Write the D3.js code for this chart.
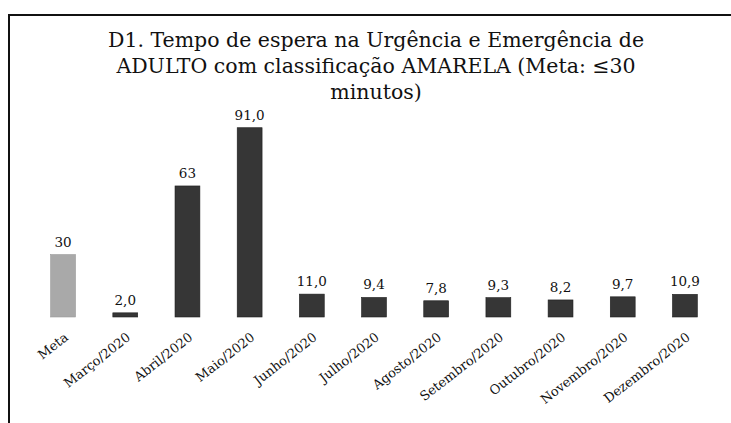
<!DOCTYPE html>
<html>
<head>
<meta charset="utf-8">
<script src="https://cdn.jsdelivr.net/npm/d3@7"></script>
<style>
  body { margin: 0; background: #fff; }
  svg { display: block; }
  text { font-family: "DejaVu Serif", "Liberation Serif", serif; fill: #111; }
</style>
</head>
<body>
<svg id="chart" width="731" height="423"></svg>
<script>
// data
var categories = ["Meta", "Março/2020", "Abril/2020", "Maio/2020", "Junho/2020", "Julho/2020",
    "Agosto/2020", "Setembro/2020", "Outubro/2020", "Novembro/2020", "Dezembro/2020"];
var values = [30, 2.0, 63, 91.0, 11.0, 9.4, 7.8, 9.3, 8.2, 9.7, 10.9];
var valueLabels = ["30", "2,0", "63", "91,0", "11,0", "9,4", "7,8", "9,3", "8,2", "9,7", "10,9"];
var titleLines = ["D1. Tempo de espera na Urgência e Emergência de",
    "ADULTO com classificação AMARELA (Meta: ≤30",
    "minutos)"];

var svg = d3.select("#chart");

// frame (top and left edge of the scanned box)
svg.append("line").attr("x1", 8).attr("y1", 15).attr("x2", 731).attr("y2", 15)
    .attr("stroke", "#111").attr("stroke-width", 2);
svg.append("line").attr("x1", 9).attr("y1", 14).attr("x2", 9).attr("y2", 423)
    .attr("stroke", "#111").attr("stroke-width", 2);

// title
svg.append("g").selectAll("text")
    .data(titleLines)
    .enter()
    .append("text")
    .attr("x", 376)
    .attr("y", function (d, i) { return 47 + i * 26; })
    .attr("text-anchor", "middle")
    .attr("font-size", 20.5)
    .text(function (d) { return d; });

var x = d3.scaleBand()
    .domain(categories)
    .range([32, 716])
    .paddingInner(0.6)
    .paddingOuter(0.3);

var y = d3.scaleLinear()
    .domain([0, 100])
    .range([317, 109]);

var data = categories.map(function (c, i) {
    return { cat: c, value: values[i], label: valueLabels[i] };
});

svg.append("g").selectAll("rect")
    .data(data)
    .enter()
    .append("rect")
    .attr("x", function (d) { return x(d.cat); })
    .attr("y", function (d) { return y(d.value); })
    .attr("width", x.bandwidth())
    .attr("height", function (d) { return y(0) - y(d.value); })
    .attr("fill", function (d, i) { return i === 0 ? "#a9a9a9" : "#363636"; })
    .attr("stroke", function (d, i) { return i === 0 ? "#999" : "#1e1e1e"; })
    .attr("stroke-width", 0.6);

svg.append("g").selectAll("text")
    .data(data)
    .enter()
    .append("text")
    .attr("x", function (d) { return x(d.cat) + x.bandwidth() / 2; })
    .attr("y", function (d) { return y(d.value) - 8; })
    .attr("text-anchor", "middle")
    .attr("font-size", 13.5)
    .text(function (d) { return d.label; });

// rotated category labels
var xAxis = svg.append("g")
    .attr("transform", "translate(0," + y(0) + ")");

xAxis.selectAll("text")
    .data(categories)
    .enter()
    .append("text")
    .attr("transform", function (d) {
        return "translate(" + (x(d) + x.bandwidth() / 2 + 6) + ",22) rotate(-38)";
    })
    .attr("text-anchor", "end")
    .attr("font-size", 13)
    .text(function (d) { return d; });
</script>
</body>
</html>
